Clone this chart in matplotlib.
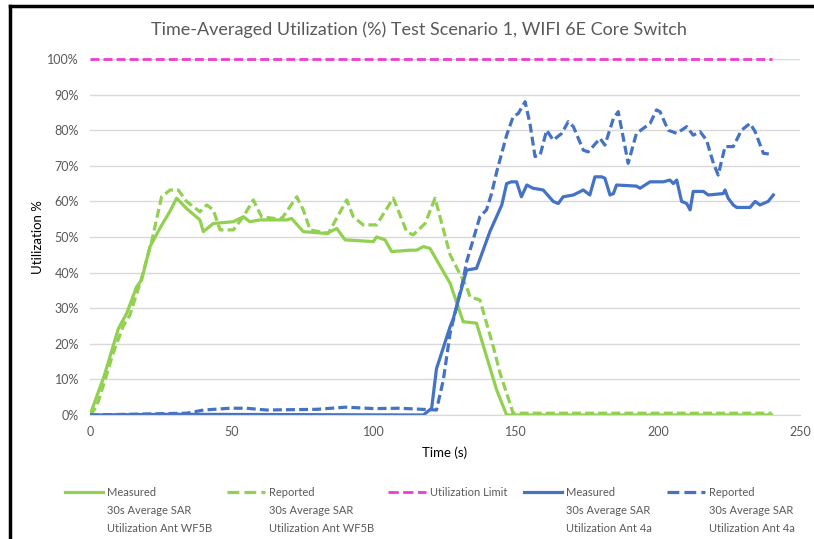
# Time-averaged utilization, test scenario 1, WIFI 6E core switch
import matplotlib
matplotlib.use("Agg")
from matplotlib import pyplot as plt
from matplotlib.lines import Line2D

plt.rcParams['font.family'] = ['Lato', 'DejaVu Sans']

# Measured 30s average SAR, Ant WF5B
t_meas_wf5b = [0, 5, 10, 12.9, 16.4, 18.2, 21.1, 25, 28, 30.5, 34, 38.7, 39.9, 43.4, 50.5, 54, 56.3,
               59.9, 69.3, 71, 75.1, 83.3, 86.9, 89.8, 99.8, 100.9, 103.9, 106.2, 112.7, 115, 117.4,
               119.7, 126.8, 131.4, 136.1, 143.2, 146.7, 240]
v_meas_wf5b = [0, 11, 24.3, 28.5, 36, 38, 47.3, 53, 57, 60.9, 58, 54.8, 51.5, 53.8, 54.3, 55.7, 54.3,
               54.8, 54.8, 55.2, 51.5, 51, 52.4, 49.2, 48.7, 50, 49.2, 45.9, 46.3, 46.3, 47.3,
               46.8, 37, 26.2, 25.8, 7, 0, 0]

# Reported 30s average SAR, Ant WF5B
t_rep_wf5b = [0, 2.3, 5.3, 8, 11.7, 14, 18, 21.7, 25.2, 28.2, 31.1, 34, 38.7, 41.1, 43.4, 45.8, 50.5,
              54, 57.5, 60.4, 66.9, 68, 72.8, 75.1, 77.5, 83.9, 90.4, 92.7, 96.2, 100.9, 106.8, 111.5,
              113.8, 118, 121.5, 126.8, 132.6, 133.8, 137.3, 142, 144.4, 149, 240]
v_rep_wf5b = [0, 2.3, 9.8, 17, 25, 28, 38, 48.7, 61.3, 63.2, 63.2, 60, 57.1, 59, 57.6, 52, 52,
              55.7, 60.4, 55.7, 55, 55.7, 61.3, 57.6, 52, 51, 60.4, 55.7, 53.4, 53.4, 60.9, 51.5,
              50.6, 53.8, 60.9, 45, 36, 33.2, 32.3, 19.2, 11.7, 0.5, 0.5]

# Utilization limit
t_limit = [0, 240]
v_limit = [100, 100]

# Measured 30s average SAR, Ant 4a
t_meas_4a = [0, 30, 117.4, 120.3, 122, 126.8, 127.9, 132.6, 136.1, 140.8, 145, 146.7, 148.4, 150.2,
             151.9, 153.8, 156, 159.6, 163.1, 164.9, 166.6, 170.2, 173.7, 176, 177.8, 180.2, 181.3,
             183.1, 184.3, 185.4, 192.4, 193.7, 197.2, 201.9, 204.2, 205.4, 206.6, 208.3, 210.1,
             211.3, 212.4, 216, 217.7, 223, 223.6, 224.7, 226.5, 227.7, 232.4, 234.2, 235.9, 238.8, 240.6]
v_meas_4a = [0, 0.2, 0, 1.9, 13, 24.8, 27, 40.7, 41.2, 51.5, 59, 65, 65.5, 65.5,
             61.3, 64.6, 63.7, 63.2, 60, 59.4, 61.3, 61.8, 63.2, 61.8, 66.9, 66.9, 66.5,
             61.8, 62.2, 64.6, 64.3, 63.7, 65.5, 65.5, 66, 65, 66, 60, 59.4,
             57.6, 62.8, 62.8, 61.8, 62.2, 63.2, 60.9, 59, 58.3, 58.3, 60, 59, 60, 61.8]

# Reported 30s average SAR, Ant 4a
t_rep_4a = [0, 34, 40, 49.3, 55, 62.2, 80, 90, 100, 109, 122, 124.4, 126.8, 131.4, 132.6, 137.3,
            139.6, 141.4, 143.2, 146.7, 149, 150.8, 153.2, 154.9, 156.7, 158.5, 160.8, 163.1, 166.1,
            168.4, 170.2, 173.7, 175.4, 179.6, 181.3, 184.3, 186, 189.5, 192.4, 197.2, 199.5, 200.7,
            203.6, 206.6, 210.1, 212.4, 214.8, 217.1, 219.5, 221.2, 223.6, 226.5, 229.4, 232.4,
            234.2, 237.1, 239.4]
v_rep_4a = [0, 0.5, 1.4, 1.9, 1.9, 1.4, 1.6, 2.2, 1.8, 1.9, 1.4, 9.8, 23, 38, 43, 55.7,
            57.6, 62.2, 68.3, 78.6, 83.8, 84.7, 88, 81.9, 72.6, 73, 80, 77.2, 79.1,
            82.4, 81, 74.4, 73.9, 77.7, 75.8, 83.3, 85.2, 70.7, 79.1, 81.9, 85.7, 85.2,
            80, 79.1, 81, 78.6, 79.6, 77.2, 70.7, 67.4, 75.4, 75.4, 80, 81.9,
            79.6, 73.5, 73.3]

labels = ["Measured\n30s Average SAR\nUtilization Ant WF5B",
          "Reported\n30s Average SAR\nUtilization Ant WF5B",
          "Utilization Limit",
          "Measured\n30s Average SAR\nUtilization Ant 4a",
          "Reported\n30s Average SAR\nUtilization Ant 4a"]

green = '#92D050'
blue = '#4472C4'
pink = '#EE3BD6'
grey_txt = '#595959'
dash = (2.8, 1.3)

W, H = 814, 539
fig = plt.figure(figsize=(W / 100, H / 100), dpi=100)
ax = fig.add_axes([90 / W, 1 - 415 / H, 710 / W, 356 / H])

lines = []
lines += ax.plot(t_meas_wf5b, v_meas_wf5b, color=green, lw=2.3, solid_joinstyle='round')
lines += ax.plot(t_rep_wf5b, v_rep_wf5b, color=green, lw=2.3, dashes=dash)
lines += ax.plot(t_limit, v_limit, color=pink, lw=2.0, dashes=(3.2, 1.5), clip_on=False, zorder=3)
lines += ax.plot(t_meas_4a, v_meas_4a, color=blue, lw=2.3, solid_joinstyle='round')
lines += ax.plot(t_rep_4a, v_rep_4a, color=blue, lw=2.3, dashes=dash)

ax.set_xlim(0, 250)
ax.set_ylim(0, 100)
ax.set_xticks(range(0, 251, 50))
ax.set_yticks(range(0, 101, 10))
ax.set_yticklabels([f"{v}%" for v in range(0, 101, 10)])
ax.grid(axis='y', color='#D9D9D9', lw=1)
ax.set_axisbelow(True)
for s in ['top', 'right', 'left']:
    ax.spines[s].set_visible(False)
ax.spines['bottom'].set_color('#D9D9D9')
ax.tick_params(length=0, labelsize=9, labelcolor=grey_txt, pad=8)
ax.set_xlabel('Time (s)', fontsize=9.5, color='black', labelpad=6)
ax.set_ylabel('Utilization %', fontsize=9.5, color='black', labelpad=2)
fig.text(419 / W, 1 - 30 / H, 'Time-Averaged Utilization (%) Test Scenario 1, WIFI 6E Core Switch',
         fontsize=13, color=grey_txt, ha='center', va='center')

# legend below the plot, keys aligned with the first text line
key_x = [65, 227, 388, 524, 667]
key_len = 38
ky = 1 - 492 / H
for i, ln in enumerate(lines):
    x0 = key_x[i] / W
    x1 = (key_x[i] + key_len) / W
    fig.add_artist(Line2D([x0, x1], [ky, ky], color=ln.get_color(), lw=ln.get_linewidth(),
                          linestyle=ln.get_linestyle(), transform=fig.transFigure))
    fig.text(x1 + 4 / W, 1 - 486.5 / H, labels[i], fontsize=8, color=grey_txt,
             ha='left', va='top', linespacing=1.8)

# screenshot frame (top and left edge)
fig.add_artist(Line2D([10 / W, 1], [1 - 6 / H, 1 - 6 / H], color='black', lw=2.5,
                      transform=fig.transFigure))
fig.add_artist(Line2D([10 / W, 10 / W], [0, 1 - 6 / H], color='black', lw=2.5,
                      transform=fig.transFigure))

plt.savefig('out.png', dpi=100)
